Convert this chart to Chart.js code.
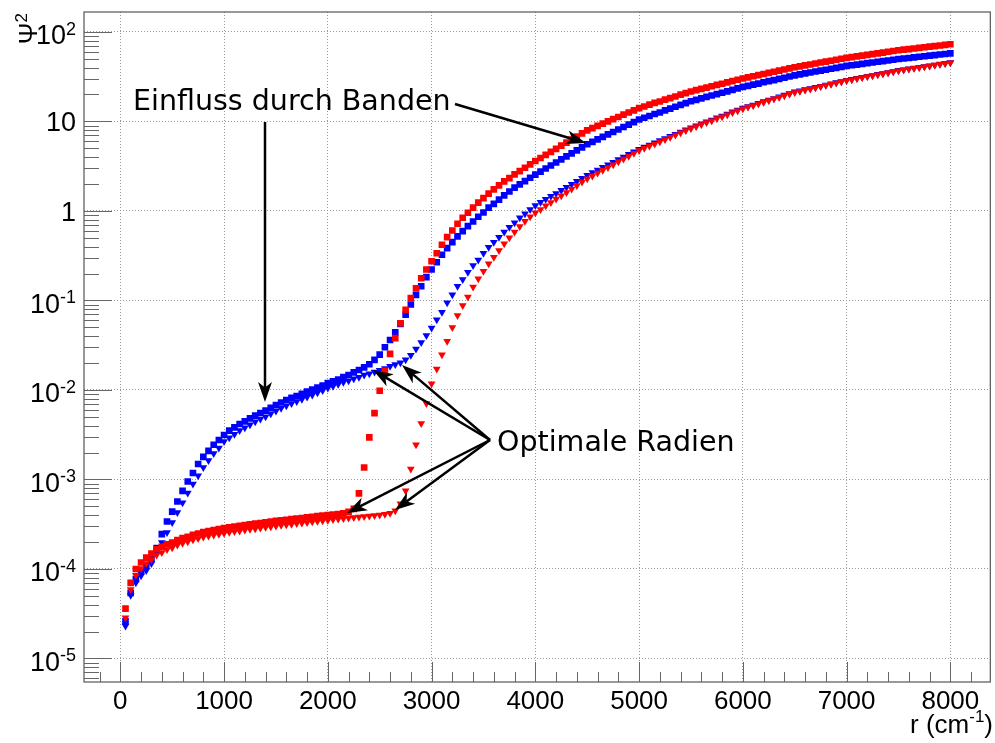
<!DOCTYPE html>
<html>
<head>
<meta charset="utf-8">
<script src="https://cdn.jsdelivr.net/npm/chart.js@4.4.1/dist/chart.umd.min.js"></script>
<style>
  html, body { margin: 0; padding: 0; background: #fff; overflow: hidden; }
</style>
</head>
<body>
<canvas id="myChart" width="995" height="743"></canvas>
<script>
// radius r in cm^-1
const r = [
  50, 100, 150, 200, 250, 300, 350, 400, 450, 500,
  550, 600, 650, 700, 750, 800, 850, 900, 950, 1000,
  1050, 1100, 1150, 1200, 1250, 1300, 1350, 1400, 1450, 1500,
  1550, 1600, 1650, 1700, 1750, 1800, 1850, 1900, 1950, 2000,
  2050, 2100, 2150, 2200, 2250, 2300, 2350, 2400, 2450, 2500,
  2550, 2600, 2650, 2700, 2750, 2800, 2850, 2900, 2950, 3000,
  3050, 3100, 3150, 3200, 3250, 3300, 3350, 3400, 3450, 3500,
  3550, 3600, 3650, 3700, 3750, 3800, 3850, 3900, 3950, 4000,
  4050, 4100, 4150, 4200, 4250, 4300, 4350, 4400, 4450, 4500,
  4550, 4600, 4650, 4700, 4750, 4800, 4850, 4900, 4950, 5000,
  5050, 5100, 5150, 5200, 5250, 5300, 5350, 5400, 5450, 5500,
  5550, 5600, 5650, 5700, 5750, 5800, 5850, 5900, 5950, 6000,
  6050, 6100, 6150, 6200, 6250, 6300, 6350, 6400, 6450, 6500,
  6550, 6600, 6650, 6700, 6750, 6800, 6850, 6900, 6950, 7000,
  7050, 7100, 7150, 7200, 7250, 7300, 7350, 7400, 7450, 7500,
  7550, 7600, 7650, 7700, 7750, 7800, 7850, 7900, 7950, 8000
];

// red squares
const redSquares = [
  3.6e-5, 7.0e-5, 1.0e-4, 1.18e-4, 1.34e-4, 1.49e-4, 1.66e-4, 1.77e-4, 1.89e-4, 1.97e-4,
  2.1e-4, 2.21e-4, 2.29e-4, 2.41e-4, 2.49e-4, 2.58e-4, 2.65e-4, 2.72e-4, 2.79e-4, 2.86e-4,
  2.92e-4, 2.98e-4, 3.03e-4, 3.09e-4, 3.15e-4, 3.21e-4, 3.26e-4, 3.32e-4, 3.38e-4, 3.44e-4,
  3.49e-4, 3.54e-4, 3.6e-4, 3.66e-4, 3.71e-4, 3.77e-4, 3.83e-4, 3.89e-4, 3.94e-4, 4.0e-4,
  4.05e-4, 4.11e-4, 4.18e-4, 4.35e-4, 4.7e-4, 7.0e-4, 1.36e-3, 2.95e-3, 5.5e-3, 9.8e-3,
  0.0164, 0.0253, 0.038, 0.0556, 0.0785, 0.106, 0.137, 0.177, 0.222, 0.274,
  0.337, 0.419, 0.509, 0.605, 0.72, 0.84, 0.955, 1.09, 1.24, 1.39,
  1.56, 1.74, 1.93, 2.14, 2.33, 2.56, 2.79, 3.04, 3.31, 3.61,
  3.9, 4.23, 4.57, 4.94, 5.36, 5.79, 6.27, 6.78, 7.35, 7.94,
  8.41, 8.91, 9.44, 10.0, 10.6, 11.2, 11.9, 12.6, 13.3, 14.1,
  14.7, 15.4, 16.1, 16.7, 17.5, 18.2, 19.0, 19.9, 20.7, 21.6,
  22.4, 23.1, 23.9, 24.7, 25.6, 26.4, 27.3, 28.2, 29.2, 30.2,
  31.1, 32.0, 32.9, 33.9, 34.9, 35.9, 36.9, 38.0, 39.1, 40.3,
  41.3, 42.3, 43.3, 44.4, 45.5, 46.6, 47.7, 48.9, 50.1, 51.3,
  52.3, 53.3, 54.4, 55.5, 56.6, 57.7, 58.8, 60.0, 61.2, 62.4,
  63.4, 64.3, 65.3, 66.3, 67.4, 68.4, 69.5, 70.6, 71.7, 72.8
];

// blue squares
const blueSquares = [
  2.6e-5, 5.4e-5, 7.7e-5, 9.3e-5, 1.08e-4, 1.29e-4, 1.71e-4, 2.45e-4, 3.39e-4, 4.38e-4,
  5.67e-4, 7.47e-4, 9.5e-4, 1.18e-3, 1.49e-3, 1.79e-3, 2.09e-3, 2.44e-3, 2.76e-3, 3.14e-3,
  3.51e-3, 3.82e-3, 4.17e-3, 4.46e-3, 4.81e-3, 5.16e-3, 5.53e-3, 5.87e-3, 6.3e-3, 6.76e-3,
  7.25e-3, 7.73e-3, 8.15e-3, 8.57e-3, 9.05e-3, 9.57e-3, 0.0101, 0.0106, 0.0112, 0.0119,
  0.0125, 0.0131, 0.0139, 0.0147, 0.0157, 0.0167, 0.0179, 0.0194, 0.0217, 0.0248,
  0.030, 0.0362, 0.044, 0.0547, 0.0695, 0.090, 0.1156, 0.144, 0.182, 0.222,
  0.267, 0.324, 0.384, 0.448, 0.519, 0.594, 0.676, 0.763, 0.861, 0.962,
  1.09, 1.2, 1.34, 1.49, 1.65, 1.82, 1.98, 2.15, 2.35, 2.55,
  2.75, 2.98, 3.22, 3.48, 3.77, 4.07, 4.4, 4.75, 5.14, 5.56,
  5.92, 6.31, 6.72, 7.16, 7.63, 8.13, 8.66, 9.23, 9.83, 10.5,
  11.0, 11.5, 12.1, 12.6, 13.3, 13.9, 14.6, 15.3, 16.0, 16.8,
  17.4, 18.1, 18.8, 19.5, 20.2, 20.9, 21.7, 22.5, 23.4, 24.3,
  25.0, 25.8, 26.5, 27.4, 28.2, 29.0, 29.9, 30.8, 31.8, 32.7,
  33.5, 34.4, 35.2, 36.1, 36.9, 37.8, 38.8, 39.7, 40.7, 41.7,
  42.4, 43.2, 44.0, 44.8, 45.6, 46.4, 47.2, 48.0, 48.9, 49.8,
  50.5, 51.2, 52.0, 52.8, 53.5, 54.3, 55.1, 55.9, 56.7, 57.5
];

// blue triangles
const blueTriangles = [
  2.3e-5, 5.1e-5, 7.0e-5, 8.4e-5, 9.6e-5, 1.15e-4, 1.48e-4, 1.98e-4, 2.55e-4, 3.3e-4,
  4.27e-4, 5.5e-4, 7.05e-4, 8.9e-4, 1.1e-3, 1.36e-3, 1.63e-3, 1.95e-3, 2.25e-3, 2.65e-3,
  2.93e-3, 3.21e-3, 3.52e-3, 3.79e-3, 4.09e-3, 4.41e-3, 4.73e-3, 5.02e-3, 5.42e-3, 5.81e-3,
  6.24e-3, 6.65e-3, 7.05e-3, 7.41e-3, 7.87e-3, 8.33e-3, 8.79e-3, 9.28e-3, 9.86e-3, 0.0105,
  0.011, 0.0116, 0.0122, 0.0127, 0.0133, 0.0139, 0.0147, 0.0152, 0.0159, 0.0166,
  0.0174, 0.0184, 0.0192, 0.0202, 0.0217, 0.0245, 0.0287, 0.034, 0.0405, 0.0493,
  0.061, 0.074, 0.094, 0.1156, 0.144, 0.171, 0.207, 0.245, 0.284, 0.337,
  0.394, 0.448, 0.509, 0.58, 0.659, 0.738, 0.84, 0.93, 1.04, 1.15,
  1.25, 1.35, 1.46, 1.57, 1.7, 1.84, 1.99, 2.15, 2.32, 2.51,
  2.69, 2.87, 3.07, 3.28, 3.51, 3.75, 4.01, 4.29, 4.58, 4.9,
  5.18, 5.47, 5.78, 6.11, 6.46, 6.82, 7.21, 7.62, 8.05, 8.51,
  8.95, 9.42, 9.91, 10.4, 11.0, 11.5, 12.1, 12.8, 13.4, 14.1,
  14.7, 15.3, 16.0, 16.7, 17.4, 18.1, 18.9, 19.7, 20.5, 21.4,
  22.0, 22.7, 23.4, 24.1, 24.8, 25.6, 26.4, 27.2, 28.0, 28.8,
  29.6, 30.3, 31.1, 31.9, 32.7, 33.6, 34.4, 35.3, 36.2, 37.2,
  37.9, 38.7, 39.5, 40.3, 41.1, 42.0, 42.8, 43.7, 44.6, 45.5
];

// red triangles
const redTriangles = [
  2.86e-5, 5.9e-5, 8.5e-5, 1.01e-4, 1.15e-4, 1.28e-4, 1.43e-4, 1.53e-4, 1.65e-4, 1.73e-4,
  1.85e-4, 1.94e-4, 2.01e-4, 2.12e-4, 2.19e-4, 2.27e-4, 2.33e-4, 2.39e-4, 2.45e-4, 2.51e-4,
  2.57e-4, 2.62e-4, 2.66e-4, 2.72e-4, 2.77e-4, 2.82e-4, 2.87e-4, 2.92e-4, 2.97e-4, 3.02e-4,
  3.07e-4, 3.11e-4, 3.16e-4, 3.22e-4, 3.26e-4, 3.31e-4, 3.37e-4, 3.42e-4, 3.46e-4, 3.51e-4,
  3.56e-4, 3.61e-4, 3.66e-4, 3.71e-4, 3.76e-4, 3.81e-4, 3.86e-4, 3.91e-4, 3.96e-4, 4.01e-4,
  4.08e-4, 4.19e-4, 4.47e-4, 5.35e-4, 7.5e-4, 1.31e-3, 2.44e-3, 4.23e-3, 7.08e-3, 0.0117,
  0.0172, 0.0248, 0.035, 0.05, 0.0678, 0.0877, 0.109, 0.141, 0.175, 0.212,
  0.257, 0.304, 0.361, 0.43, 0.501, 0.58, 0.671, 0.769, 0.86, 0.955,
  1.04, 1.14, 1.24, 1.36, 1.48, 1.61, 1.76, 1.92, 2.1, 2.29,
  2.46, 2.65, 2.85, 3.06, 3.29, 3.54, 3.81, 4.09, 4.4, 4.73,
  5.01, 5.3, 5.61, 5.94, 6.29, 6.66, 7.05, 7.46, 7.9, 8.36,
  8.79, 9.25, 9.73, 10.2, 10.8, 11.3, 11.9, 12.6, 13.2, 13.9,
  14.5, 15.1, 15.8, 16.4, 17.1, 17.9, 18.6, 19.4, 20.3, 21.1,
  21.8, 22.5, 23.1, 23.8, 24.6, 25.3, 26.1, 26.9, 27.7, 28.6,
  29.3, 30.1, 30.9, 31.7, 32.5, 33.3, 34.2, 35.1, 36.0, 36.9,
  37.7, 38.5, 39.2, 40.1, 40.9, 41.7, 42.6, 43.5, 44.4, 45.3
];

// axis ticks
const xTickLabels = [0, 1000, 2000, 3000, 4000, 5000, 6000, 7000, 8000];
const yExponents = [-5, -4, -3, -2, -1, 0, 1, 2];

const toPoints = arr => r.map((x, i) => ({ x: x, y: arr[i] }));

// ROOT-like frame, inside ticks, y labels, axis titles, annotations
const rootStyle = {
  id: 'rootStyle',
  afterDraw(chart) {
    const ctx = chart.ctx, a = chart.chartArea;
    const xs = chart.scales.x, ys = chart.scales.y;
    ctx.save();

    // frame
    ctx.strokeStyle = '#555';
    ctx.lineWidth = 1.2;
    ctx.strokeRect(a.left, a.top, a.right - a.left, a.bottom - a.top);

    // y ticks (inside)
    ctx.strokeStyle = '#666';
    ctx.lineWidth = 1;
    for (let e = -6; e <= 2; e++) {
      for (let k = 1; k <= 9; k++) {
        const v = k * Math.pow(10, e);
        const py = Math.round(ys.getPixelForValue(v)) + 0.5;
        if (py < a.top || py > a.bottom) continue;
        const len = k === 1 ? 28 : 15;
        ctx.beginPath(); ctx.moveTo(a.left, py); ctx.lineTo(a.left + len, py); ctx.stroke();
      }
    }
    // x ticks (inside)
    for (let v = -200; v <= 8400; v += 200) {
      const px = Math.round(xs.getPixelForValue(v)) + 0.5;
      if (px < a.left || px > a.right) continue;
      const len = v % 1000 === 0 ? 20 : 10;
      ctx.beginPath(); ctx.moveTo(px, a.bottom); ctx.lineTo(px, a.bottom - len); ctx.stroke();
    }

    // y labels with superscripts
    ctx.fillStyle = '#000';
    ctx.textBaseline = 'alphabetic';
    const big = '27px "Liberation Sans", Arial, sans-serif';
    const small = '18px "Liberation Sans", Arial, sans-serif';
    yExponents.forEach(e => {
      const py = ys.getPixelForValue(Math.pow(10, e));
      const right = 76;
      if (e === 0 || e === 1) {
        ctx.font = big; ctx.textAlign = 'right';
        ctx.fillText(e === 0 ? '1' : '10', right, py + 10);
      } else {
        const ex = String(e);
        ctx.font = small; ctx.textAlign = 'right';
        const we = ctx.measureText(ex).width;
        ctx.fillText(ex, right, py + 3);
        ctx.font = big;
        ctx.fillText('10', right - we, py + 12.5);
      }
    });

    // x title: r (cm^-1)
    ctx.textAlign = 'right';
    ctx.font = '26px "Liberation Sans", Arial, sans-serif';
    let xr = 993;
    ctx.fillText(')', xr, 733);
    xr -= ctx.measureText(')').width;
    ctx.font = '17px "Liberation Sans", Arial, sans-serif';
    ctx.fillText('-1', xr, 722);
    xr -= ctx.measureText('-1').width;
    ctx.font = '26px "Liberation Sans", Arial, sans-serif';
    ctx.fillText('r (cm', xr, 733);

    // y title: Psi^2 rotated
    ctx.save();
    ctx.translate(37, 13);
    ctx.rotate(-Math.PI / 2);
    ctx.textAlign = 'right';
    ctx.font = '17px "Liberation Sans", Arial, sans-serif';
    ctx.fillText('2', 0, -10);
    const w2 = ctx.measureText('2').width;
    ctx.font = '26px "Liberation Sans", "DejaVu Sans", sans-serif';
    ctx.fillText('Ψ', -w2, 0);
    ctx.restore();

    // annotations
    ctx.font = '28.5px "DejaVu Sans", sans-serif';
    ctx.textAlign = 'left';
    ctx.fillText('Einfluss durch Banden', 133, 110);
    ctx.fillText('Optimale Radien', 497, 451);

    ctx.strokeStyle = '#000';
    ctx.fillStyle = '#000';
    ctx.lineWidth = 2.5;
    const arrow = (x1, y1, x2, y2) => {
      const ang = Math.atan2(y2 - y1, x2 - x1), L = 20, W = 7;
      ctx.beginPath();
      ctx.moveTo(x1, y1);
      ctx.lineTo(x2 - Math.cos(ang) * L * 0.7, y2 - Math.sin(ang) * L * 0.7);
      ctx.stroke();
      ctx.save();
      ctx.translate(x2, y2);
      ctx.rotate(ang);
      ctx.beginPath();
      ctx.moveTo(0, 0); ctx.lineTo(-L, -W); ctx.lineTo(-L * 0.72, 0); ctx.lineTo(-L, W);
      ctx.closePath(); ctx.fill();
      ctx.restore();
    };
    arrow(265, 122, 265, 402);
    arrow(455, 104, 586, 143);
    arrow(490, 440, 373, 370);
    arrow(490, 440, 402, 365);
    arrow(490, 440, 347, 513);
    arrow(490, 440, 395, 510);

    ctx.restore();
  }
};

const ctx = document.getElementById('myChart');
new Chart(ctx, {
  type: 'scatter',
  data: {
    datasets: [
      {
        label: 'rot Dreiecke', data: toPoints(redTriangles), order: 0,
        pointStyle: 'triangle', rotation: 180, pointRadius: 4.5,
        backgroundColor: '#ff0000', borderColor: '#ff0000', borderWidth: 0
      },
      {
        label: 'rot Quadrate', data: toPoints(redSquares), order: 1,
        pointStyle: 'rect', pointRadius: 4.7,
        backgroundColor: '#ff0000', borderColor: '#ff0000', borderWidth: 0
      },
      {
        label: 'blau Dreiecke', data: toPoints(blueTriangles), order: 2,
        pointStyle: 'triangle', rotation: 180, pointRadius: 4.5,
        backgroundColor: '#0000ff', borderColor: '#0000ff', borderWidth: 0
      },
      {
        label: 'blau Quadrate', data: toPoints(blueSquares), order: 3,
        pointStyle: 'rect', pointRadius: 4.7,
        backgroundColor: '#0000ff', borderColor: '#0000ff', borderWidth: 0
      }
    ]
  },
  options: {
    responsive: false,
    animation: false,
    devicePixelRatio: 1,
    layout: { padding: { top: 12, right: 1, left: 0, bottom: 0 } },
    plugins: { legend: { display: false }, tooltip: { enabled: false } },
    scales: {
      x: {
        type: 'linear', min: -350, max: 8385, bounds: 'data',
        afterBuildTicks: s => { s.ticks = xTickLabels.map(v => ({ value: v })); },
        afterFit: s => { s.height = 61; },
        grid: { color: '#999', lineWidth: 1, drawTicks: false },
        border: { display: false, dash: [1, 2] },
        ticks: {
          color: '#000', padding: 4, autoSkip: false, maxRotation: 0,
          font: { family: '"Liberation Sans", Arial, sans-serif', size: 26 },
          callback: v => String(v)
        }
      },
      y: {
        type: 'logarithmic', min: 5.46e-6, max: 167, bounds: 'data',
        afterBuildTicks: s => { s.ticks = yExponents.map(e => ({ value: Math.pow(10, e) })); },
        afterFit: s => { s.width = 84; },
        grid: { color: '#999', lineWidth: 1, drawTicks: false },
        border: { display: false, dash: [1, 2] },
        ticks: { display: false }
      }
    }
  },
  plugins: [rootStyle]
});
</script>
</body>
</html>
